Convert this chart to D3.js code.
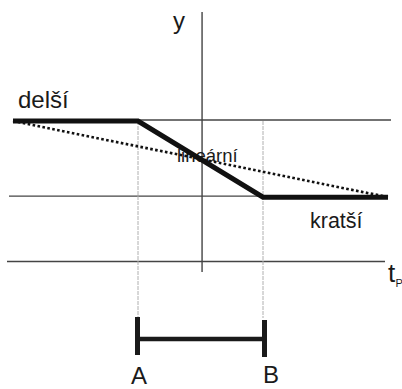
<!DOCTYPE html>
<html><head><meta charset="utf-8">
<script src="https://cdn.jsdelivr.net/npm/d3@7"></script>
<style>html,body{margin:0;padding:0;background:#fff}svg{display:block}text{font-family:"Liberation Sans",Arial,sans-serif;fill:#1a1a1a}</style>
</head><body><svg id="c" width="402" height="389"></svg>
<script>
// data (x in units of t, y in level units)
const pointsNames = ["A", "B"];
const pointsT = [-1, 1];
const levelNames = ["delší", "kratší"];
const levelValues = [100, 46];
const thickT = [-3, -1, 1, 3];
const thickY = [100, 100, 46, 46];
const linearT = [-3, 3];
const linearY = [100, 46];

const svg = d3.select("#c");
const x = d3.scaleLinear().domain([-1, 1]).range([138, 263]);
const y = d3.scaleLinear().domain([0, 100]).range([262, 121]);
const axisT = 0.025;

// reference horizontal lines
svg.append("line").attr("x1", x(-3)).attr("x2", 391).attr("y1", y(levelValues[0]) - 1).attr("y2", y(levelValues[0]) - 1)
  .attr("stroke", "#444").attr("stroke-width", 1.4);
svg.append("line").attr("x1", 9).attr("x2", x(3)).attr("y1", y(levelValues[1]) - 1).attr("y2", y(levelValues[1]) - 1)
  .attr("stroke", "#444").attr("stroke-width", 1.4);
// t axis
svg.append("line").attr("x1", 7).attr("x2", 385).attr("y1", y(0) - 0.5).attr("y2", y(0) - 0.5)
  .attr("stroke", "#444").attr("stroke-width", 1.6);
// y axis
svg.append("line").attr("x1", x(axisT)).attr("x2", x(axisT)).attr("y1", 12).attr("y2", 272)
  .attr("stroke", "#444").attr("stroke-width", 1.4);

// dashed verticals at A and B
svg.selectAll(".vd").data(pointsT).join("line")
  .attr("x1", d => x(d)).attr("x2", d => x(d)).attr("y1", y(levelValues[0])).attr("y2", 318)
  .attr("stroke", "#b0b0b0").attr("stroke-width", 1).attr("stroke-dasharray", "4,1");

// labels
svg.append("text").attr("x", 18).attr("y", 108).attr("font-size", 24).text(levelNames[0]);
svg.append("text").attr("x", 310).attr("y", 228).attr("font-size", 21.5).text(levelNames[1]);
svg.append("text").attr("x", 173).attr("y", 29).attr("font-size", 24).text("y");
svg.append("text").attr("x", 388).attr("y", 282).attr("font-size", 26).text("t");
svg.append("text").attr("x", 395.5).attr("y", 287).attr("font-size", 11).text("P");

// lineární label (under lines)
svg.append("text").attr("x", 177).attr("y", 162).attr("font-size", 18.5).text("lineární");

// dotted linear line
const line = d3.line().x(d => x(d[0])).y(d => y(d[1]));
svg.append("path").attr("d", line(d3.zip(linearT, linearY)))
  .attr("fill", "none").attr("stroke", "#111").attr("stroke-width", 2.6).attr("stroke-dasharray", "2.6,2.4");

// thick line
svg.append("path").attr("d", line(d3.zip(thickT, thickY)))
  .attr("fill", "none").attr("stroke", "#111").attr("stroke-width", 5).attr("stroke-linejoin", "miter");

// bracket
svg.append("line").attr("x1", x(pointsT[0])).attr("x2", x(pointsT[1])).attr("y1", 339).attr("y2", 339)
  .attr("stroke", "#1a1a1a").attr("stroke-width", 4.5);
svg.selectAll(".tk").data(pointsT).join("line")
  .attr("x1", (d, i) => x(d) + (i ? 1.5 : -0.5)).attr("x2", (d, i) => x(d) + (i ? 1.5 : -0.5))
  .attr("y1", (d, i) => i ? 320 : 317).attr("y2", (d, i) => i ? 357 : 355)
  .attr("stroke", "#1a1a1a").attr("stroke-width", 5);
svg.selectAll(".pl").data(pointsNames).join("text")
  .attr("x", (d, i) => x(pointsT[i]) + (i ? 8 : 1)).attr("y", (d, i) => i ? 383 : 384)
  .attr("text-anchor", "middle").attr("font-size", 24).text(d => d);
</script></body></html>
